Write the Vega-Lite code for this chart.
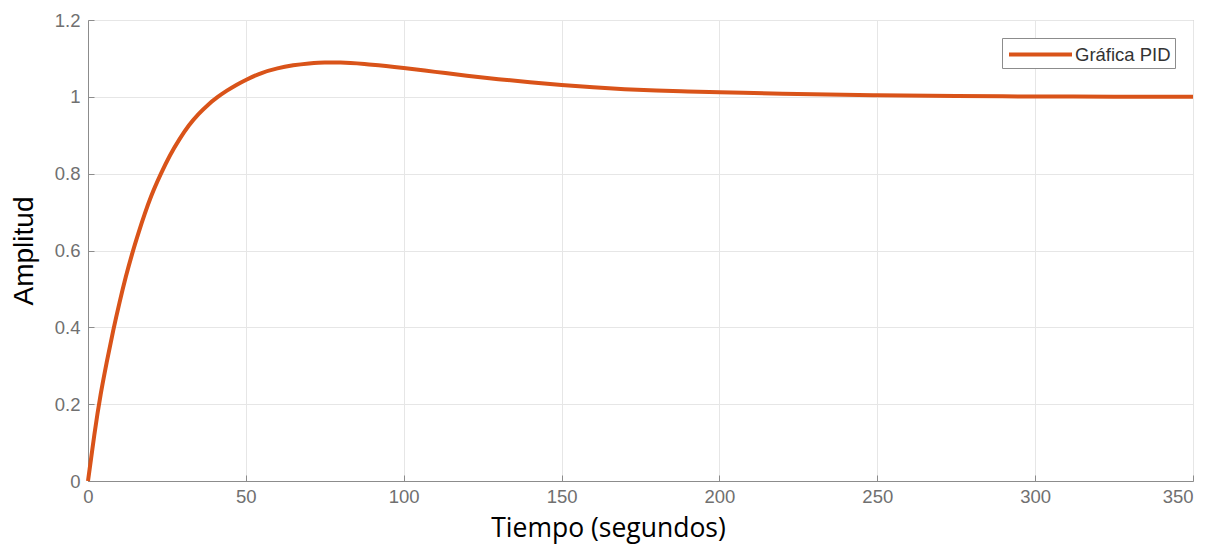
{
  "$schema": "https://vega.github.io/schema/vega-lite/v6.json",
  "width": 1105,
  "height": 461,
  "autosize": {"type": "none"},
  "padding": {"left": 88, "top": 20, "right": 28, "bottom": 65},
  "background": "white",
  "config": {
    "view": {"stroke": "#a6a6a6", "strokeWidth": 1},
    "axis": {
      "gridColor": "#e6e6e6",
      "gridWidth": 1,
      "domainColor": "#8c8c8c",
      "tickColor": "#8c8c8c",
      "labelColor": "#707070",
      "labelFont": "Liberation Sans",
      "labelFontSize": 18.5,
      "titleFontWeight": "normal",
      "titleColor": "#000000"
    }
  },
  "data": {
    "values": [
      {"t": 0, "y": 0, "serie": "Gráfica PID"},
      {"t": 1, "y": 0.06, "serie": "Gráfica PID"},
      {"t": 2, "y": 0.12, "serie": "Gráfica PID"},
      {"t": 3, "y": 0.175, "serie": "Gráfica PID"},
      {"t": 4, "y": 0.225, "serie": "Gráfica PID"},
      {"t": 5, "y": 0.27, "serie": "Gráfica PID"},
      {"t": 6, "y": 0.312, "serie": "Gráfica PID"},
      {"t": 8, "y": 0.392, "serie": "Gráfica PID"},
      {"t": 10, "y": 0.465, "serie": "Gráfica PID"},
      {"t": 12, "y": 0.532, "serie": "Gráfica PID"},
      {"t": 14, "y": 0.592, "serie": "Gráfica PID"},
      {"t": 16, "y": 0.646, "serie": "Gráfica PID"},
      {"t": 18, "y": 0.696, "serie": "Gráfica PID"},
      {"t": 20, "y": 0.741, "serie": "Gráfica PID"},
      {"t": 23, "y": 0.798, "serie": "Gráfica PID"},
      {"t": 26, "y": 0.848, "serie": "Gráfica PID"},
      {"t": 29, "y": 0.89, "serie": "Gráfica PID"},
      {"t": 32, "y": 0.926, "serie": "Gráfica PID"},
      {"t": 35, "y": 0.955, "serie": "Gráfica PID"},
      {"t": 38, "y": 0.979, "serie": "Gráfica PID"},
      {"t": 41, "y": 0.999, "serie": "Gráfica PID"},
      {"t": 44, "y": 1.016, "serie": "Gráfica PID"},
      {"t": 47, "y": 1.031, "serie": "Gráfica PID"},
      {"t": 50, "y": 1.044, "serie": "Gráfica PID"},
      {"t": 55, "y": 1.062, "serie": "Gráfica PID"},
      {"t": 60, "y": 1.074, "serie": "Gráfica PID"},
      {"t": 65, "y": 1.082, "serie": "Gráfica PID"},
      {"t": 70, "y": 1.087, "serie": "Gráfica PID"},
      {"t": 75, "y": 1.0895, "serie": "Gráfica PID"},
      {"t": 80, "y": 1.0895, "serie": "Gráfica PID"},
      {"t": 90, "y": 1.0835, "serie": "Gráfica PID"},
      {"t": 100, "y": 1.075, "serie": "Gráfica PID"},
      {"t": 110, "y": 1.065, "serie": "Gráfica PID"},
      {"t": 120, "y": 1.055, "serie": "Gráfica PID"},
      {"t": 130, "y": 1.046, "serie": "Gráfica PID"},
      {"t": 140, "y": 1.038, "serie": "Gráfica PID"},
      {"t": 150, "y": 1.031, "serie": "Gráfica PID"},
      {"t": 160, "y": 1.025, "serie": "Gráfica PID"},
      {"t": 170, "y": 1.02, "serie": "Gráfica PID"},
      {"t": 180, "y": 1.0165, "serie": "Gráfica PID"},
      {"t": 190, "y": 1.014, "serie": "Gráfica PID"},
      {"t": 200, "y": 1.012, "serie": "Gráfica PID"},
      {"t": 220, "y": 1.008, "serie": "Gráfica PID"},
      {"t": 250, "y": 1.004, "serie": "Gráfica PID"},
      {"t": 275, "y": 1.002, "serie": "Gráfica PID"},
      {"t": 300, "y": 1.001, "serie": "Gráfica PID"},
      {"t": 325, "y": 1.0005, "serie": "Gráfica PID"},
      {"t": 350, "y": 1.0, "serie": "Gráfica PID"}
    ]
  },
  "mark": {"type": "line", "strokeWidth": 4, "interpolate": "monotone"},
  "encoding": {
    "x": {
      "field": "t",
      "type": "quantitative",
      "scale": {"domain": [0, 350], "nice": false},
      "axis": {
        "title": "Tiempo (segundos)",
        "titleFont": "Open Sans",
        "titleFontSize": 26.5,
        "titleX": 520,
        "values": [0, 50, 100, 150, 200, 250, 300, 350],
        "format": "d",
        "labelFlush": false,
        "labelAlign": {"condition": {"test": "datum.value == 350", "value": "right"}, "value": "center"},
        "tickSize": -6,
        "labelPadding": 12,
        "titlePadding": 10
      }
    },
    "y": {
      "field": "y",
      "type": "quantitative",
      "scale": {"domain": [0, 1.2], "nice": false},
      "axis": {
        "title": "Amplitud",
        "titleFont": "Liberation Sans",
        "titleFontSize": 28,
        "values": [0, 0.2, 0.4, 0.6, 0.8, 1, 1.2],
        "format": "~g",
        "labelFlush": false,
        "tickSize": -6,
        "labelPadding": 14,
        "titlePadding": 16
      }
    },
    "color": {
      "field": "serie",
      "type": "nominal",
      "scale": {"range": ["#D95319"]},
      "legend": {
        "title": null,
        "orient": "none",
        "legendX": 914,
        "legendY": 18,
        "symbolType": "M-3,0H3",
        "symbolSize": 441,
        "symbolStrokeWidth": 4,
        "symbolOffset": 22,
        "labelOffset": 22,
        "labelFont": "Liberation Sans",
        "labelFontSize": 18.5,
        "labelColor": "#333333",
        "strokeColor": "#8c8c8c",
        "fillColor": "white",
        "padding": 4
      }
    }
  }
}
